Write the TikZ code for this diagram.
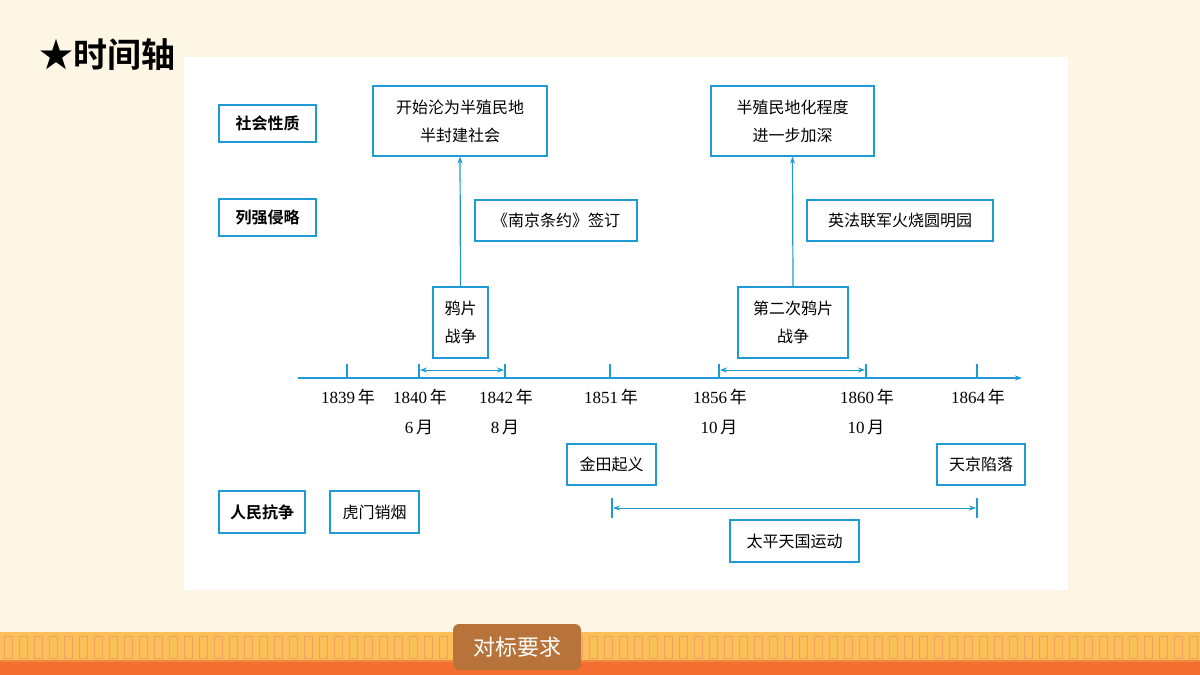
\documentclass[tikz,border=0pt]{standalone}
\usetikzlibrary{arrows.meta}
\usepackage{fontspec}
\newfontfamily\cjk{Noto Sans CJK SC}
\newfontfamily\cjkb{Noto Sans CJK SC Bold}
\setmainfont{Liberation Serif}
\definecolor{bg}{HTML}{FDF6E5}
\definecolor{bl}{HTML}{1E9BD7}
\definecolor{band}{HTML}{F08A3C}
\definecolor{bandl}{HTML}{FBBF5A}
\definecolor{btn}{HTML}{B8733A}
\begin{document}
\begin{tikzpicture}[x=1pt,y=-1pt,
  bx/.style={draw=bl,line width=1.2pt,fill=white,inner sep=0pt,align=center,font=\cjk\fontsize{16}{28}\selectfont},
  lb/.style={draw=bl,line width=1.2pt,fill=white,inner sep=0pt,font=\cjkb\fontsize{16}{20}\selectfont},
  ln/.style={bl,line width=1.2pt},
  ar/.style={bl,line width=1.2pt,-{Stealth[length=7pt,width=5pt]}},
  dar/.style={bl,line width=1pt,{Stealth[length=7pt,width=5pt]}-{Stealth[length=7pt,width=5pt]}},
  yr/.style={font=\fontsize{17}{20}\selectfont}]
\useasboundingbox (0,0) rectangle (1200,675);
\fill[bg] (0,0) rectangle (1200,675);
\fill[white] (184,57) rectangle (1068,590);
\node[anchor=west,font=\cjkb\fontsize{34}{36}\selectfont] (title) at (36,55) {★时间轴};
% bottom band
\fill[band] (0,632) rectangle (1200,675);
\fill[bandl] (0,632) rectangle (1200,660);
\foreach \i in {0,...,80} {\draw[band!80!white,line width=1pt] (\i*15+4,636) rectangle (\i*15+12,658);}
\fill[band!80!red] (0,662) rectangle (1200,675);
\node[fill=btn,rounded corners=6pt,minimum width=128pt,minimum height=46pt,text=white,font=\cjk\fontsize{22}{24}\selectfont] (btn) at (517,647) {对标要求};
% left labels
\node[lb,minimum width=97pt,minimum height=37pt] (l1) at (267.5,123.5) {社会性质};
\node[lb,minimum width=97pt,minimum height=37pt] (l2) at (267.5,217.5) {列强侵略};
\node[lb,minimum width=86pt,minimum height=42pt] (l3) at (262,512) {人民抗争};
% boxes
\node[bx,minimum width=174pt,minimum height=70pt] (s1) at (460,121) {开始沦为半殖民地\\半封建社会};
\node[bx,minimum width=163pt,minimum height=70pt] (s2) at (792.5,121) {半殖民地化程度\\进一步加深};
\node[bx,minimum width=162pt,minimum height=41pt] (q1) at (556,220.5) {《南京条约》签订};
\node[bx,minimum width=186pt,minimum height=41pt] (q2) at (900,220.5) {英法联军火烧圆明园};
\node[bx,minimum width=55pt,minimum height=71pt] (w1) at (460.5,322.5) {鸦片\\战争};
\node[bx,minimum width=110pt,minimum height=71pt] (w2) at (793,322.5) {第二次鸦片\\战争};
\draw[ar] (w1.north) -- (s1.south);
\draw[ar] (w2.north) -- (s2.south);
% axis
\coordinate (a0) at (298,378); \coordinate (a1) at (1022,378);
\draw[ar] (a0) -- (a1);
\foreach \x/\y in {347/1839,419/1840,505/1842,610/1851,719/1856,866/1860,977/1864} {
  \draw[ln] (\x,364) -- (\x,378);
  \node[yr] at (\x+1,397) {\y\,{\cjk 年}};
}
\foreach \x/\m in {419/6,505/8,719/10,866/10} {
  \node[yr] at (\x,427) {\m\,{\cjk 月}};
}
\draw[dar] (420,370) -- (504,370);
\draw[dar] (720,370) -- (865,370);
% taiping
\node[bx,minimum width=89pt,minimum height=41pt] (j1) at (611.5,464.5) {金田起义};
\node[bx,minimum width=88pt,minimum height=41pt] (j2) at (981,464.5) {天京陷落};
\node[bx,minimum width=89pt,minimum height=42pt] (h) at (374.5,512) {虎门销烟};
\draw[ln] (612,498) -- (612,518); \draw[ln] (977,498) -- (977,518);
\draw[dar] (613,508) -- (976,508);
\node[bx,minimum width=129pt,minimum height=42pt] (tp) at (794.5,541) {太平天国运动};
\end{tikzpicture}
\end{document}
